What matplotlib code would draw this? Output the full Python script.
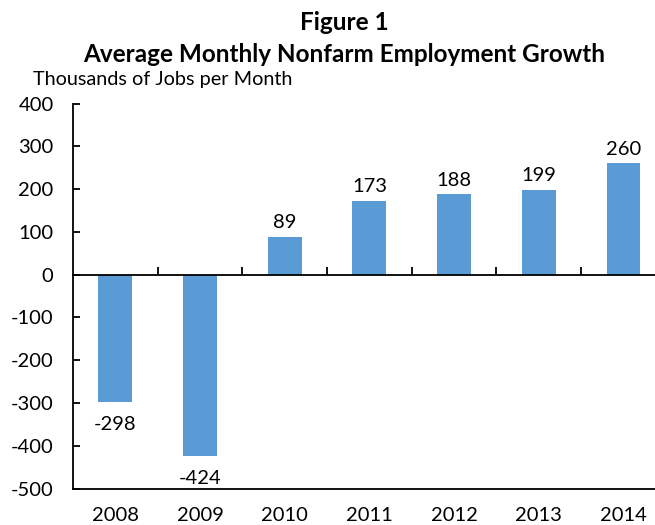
import matplotlib
matplotlib.use("Agg")
import matplotlib.pyplot as plt
import numpy as np

years = ["2008", "2009", "2010", "2011", "2012", "2013", "2014"]
jobs_growth = [-298, -424, 89, 173, 188, 199, 260]
y_ticks = [-500, -400, -300, -200, -100, 0, 100, 200, 300, 400]

BAR_COLOR = "#5B9BD5"

plt.rcParams["font.family"] = ["Lato", "DejaVu Sans"]

fig = plt.figure(figsize=(6.55, 5.25), dpi=100)
ax = fig.add_axes([0.1115, 0.0695, 0.905, 0.7333])

x = np.arange(len(years))
ax.bar(x, jobs_growth, width=0.40, color=BAR_COLOR, zorder=2)

for xi, val in zip(x, jobs_growth):
    offset = 4 if val >= 0 else -10
    va = "bottom" if val >= 0 else "top"
    ax.annotate(str(val), (xi, val), xytext=(0, offset), textcoords="offset points",
                ha="center", va=va, fontsize=14.5)

ax.set_xlim(-0.5, len(years) - 0.5)
ax.set_ylim(-500, 400)
ax.set_yticks(y_ticks)
ax.set_yticklabels([str(v) for v in y_ticks])

# category labels at the bottom, no marks
ax.set_xticks(x)
ax.set_xticklabels(years)
ax.tick_params(axis="x", which="major", length=0, pad=13, labelsize=14.5)

# zero line acts as category axis with ticks between categories
ax.spines["top"].set_position(("data", 0))
ax.spines["top"].set_linewidth(1.3)
ax.set_xticks(np.arange(0.5, len(years) - 0.5, 1.0), minor=True)
ax.tick_params(axis="x", which="minor", bottom=False, top=True, direction="out",
               length=6, width=1.3)

ax.spines["right"].set_visible(False)
ax.spines["left"].set_linewidth(1.3)
ax.spines["bottom"].set_linewidth(1.3)
ax.tick_params(axis="y", direction="in", length=5, width=1.3, pad=14, labelsize=14.5)

fig.text(0.525, 0.958, "Figure 1", ha="center", va="center", fontsize=17.5, fontweight="bold")
fig.text(0.525, 0.897, "Average Monthly Nonfarm Employment Growth", ha="center", va="center",
         fontsize=17.5, fontweight="bold")
fig.text(0.05, 0.848, "Thousands of Jobs per Month", ha="left", va="center", fontsize=14.3)

fig.savefig("out.png", dpi=100)
